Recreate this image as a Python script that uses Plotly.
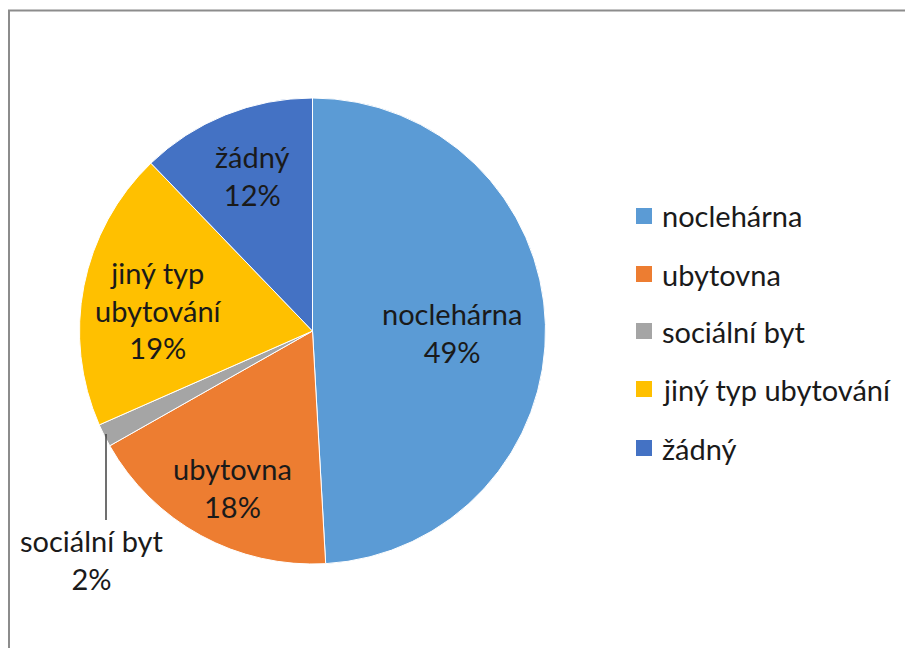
import plotly.graph_objects as go

# the page puts the figure 8px in from the top-left corner
OFF = 8
W, H = 913 - OFF, 648 - OFF

labels = ["noclehárna", "ubytovna", "sociální byt", "jiný typ ubytování", "žádný"]
label_lines = ["noclehárna", "ubytovna", "sociální byt", "jiný typ<br>ubytování", "žádný"]
values = [49.1, 17.7, 1.6, 19.4, 12.2]
colors = ["#5B9BD5", "#ED7D31", "#A5A5A5", "#FFC000", "#4472C4"]

# label block centres in page pixels (Excel style placement)
label_pos = [(452, 332), (232, 487), (91, 559), (158, 310), (253, 176)]
legend_y = [216, 274, 331, 389, 448]

FONT = "Lato"
FSIZE = 29


def px(x, y):
    return (x - OFF) / W, 1 - (y - OFF) / H


fig = go.Figure()

cx, cy, r = 312.5, 331, 233
dx0, dy0 = px(cx - r, cy + r)
dx1, dy1 = px(cx + r, cy - r)
fig.add_trace(go.Pie(
    labels=labels,
    values=values,
    sort=False,
    direction="clockwise",
    rotation=0,
    marker=dict(colors=colors, line=dict(color="white", width=1)),
    textinfo="none",
    hoverinfo="label+percent",
    showlegend=False,
    domain=dict(x=[dx0, dx1], y=[dy0, dy1]),
))

total = sum(values)
annotations = []
for name, v, (lx, ly) in zip(label_lines, values, label_pos):
    x, y = px(lx, ly)
    annotations.append(dict(
        x=x, y=y, xref="paper", yref="paper",
        text=f"{name}<br>{round(v / total * 100)}%",
        showarrow=False, xanchor="center", yanchor="middle",
        font=dict(family=FONT, size=FSIZE, color="#1a1a1a"),
    ))

shapes = []
# leader line for the small slice
x0, y0 = px(106, 434)
x1, y1 = px(106, 520)
shapes.append(dict(type="line", xref="paper", yref="paper", x0=x0, y0=y0, x1=x1, y1=y1,
                   line=dict(color="#404040", width=1.5)))

# legend drawn by hand so the row spacing matches
for name, c, ly in zip(labels, colors, legend_y):
    a0, b0 = px(636, ly + 8)
    a1, b1 = px(652, ly - 8)
    shapes.append(dict(type="rect", xref="paper", yref="paper", x0=a0, y0=b0, x1=a1, y1=b1,
                       fillcolor=c, line=dict(width=0)))
    tx, ty = px(660, ly)
    annotations.append(dict(
        x=tx, y=ty, xref="paper", yref="paper", text=name, showarrow=False,
        xanchor="left", yanchor="middle",
        font=dict(family=FONT, size=FSIZE, color="#1a1a1a"),
    ))

# chart area border (left and top edges visible)
bx, by = px(9, 10.5)
shapes.append(dict(type="path", xref="paper", yref="paper",
                   path=f"M {bx} -0.01 L {bx} {by} L 1.01 {by}",
                   line=dict(color="#8c8c8c", width=2)))

fig.update_layout(
    width=W, height=H,
    margin=dict(l=0, r=0, t=0, b=0),
    paper_bgcolor="white",
    plot_bgcolor="white",
    annotations=annotations,
    shapes=shapes,
    font=dict(family=FONT),
)

fig.write_html("out.html")
